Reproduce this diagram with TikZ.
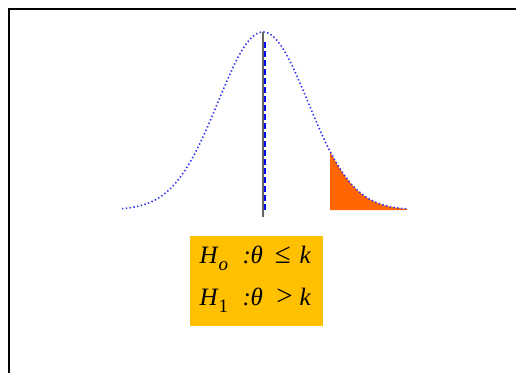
\documentclass[tikz,border=0pt]{standalone}
\usepackage{fontspec}
\setmainfont{Liberation Serif}
\definecolor{boxyellow}{HTML}{FFC000}
\definecolor{tailorange}{HTML}{FF6600}
\definecolor{curveblue}{HTML}{3030F0}
\newcommand\placeat[2]{\rlap{\hspace{#1}#2}}
\newcommand\lowsub[1]{\raisebox{-7pt}{\fontsize{19}{21}\selectfont #1}}
\newcommand\bigrel[1]{{\fontsize{29}{31}\selectfont #1}}
\begin{document}
\begin{tikzpicture}[x=1pt,y=-1pt,
  hyp/.style={anchor=base west,inner sep=0pt,font=\fontsize{25}{29}\selectfont\itshape},
  bell/.style={curveblue,line width=1.6pt,dash pattern=on 1.4pt off 2.4pt}]
\useasboundingbox (0,0) rectangle (516,372);
% frame (top and left)
\draw[line width=2pt] (9,373) -- (9,9) -- (517,9);
% tail area
\fill[tailorange] (330,210) -- plot[domain=330:407,samples=40,smooth] (\x,{210-178*exp(-0.5*((\x-263)/45)^2)}) -- (407,210) -- cycle;
% bell curve
\draw[bell] plot[domain=122:407,samples=120,smooth] (\x,{210-178*exp(-0.5*((\x-263)/45)^2)});
% centre lines
\coordinate (ctop) at (263,32);
\coordinate (cbot) at (263,217);
\draw[gray!80!black,line width=1.5pt] (ctop) -- (cbot);
\coordinate (dtop) at (265,42);
\coordinate (dbot) at (265,211);
\draw[blue,line width=1.8pt,dash pattern=on 6pt off 3pt] (dtop) -- (dbot);
% hypotheses box
\node[fill=boxyellow,minimum width=133pt,minimum height=90pt,inner sep=0pt] (box) at (256,281) {};
\node[hyp] (h0) at (199,263) {\placeat{0pt}{H}\placeat{19pt}{\lowsub{o}}\placeat{43pt}{:}\placeat{51pt}{θ}\placeat{75pt}{\bigrel{≤}}\placeat{100pt}{k}};
\node[hyp] (h1) at (199,305) {\placeat{0pt}{H}\placeat{19pt}{\lowsub{\upshape 1}}\placeat{43pt}{:}\placeat{51pt}{θ}\placeat{75pt}{\bigrel{>}}\placeat{100pt}{k}};
\end{tikzpicture}
\end{document}
